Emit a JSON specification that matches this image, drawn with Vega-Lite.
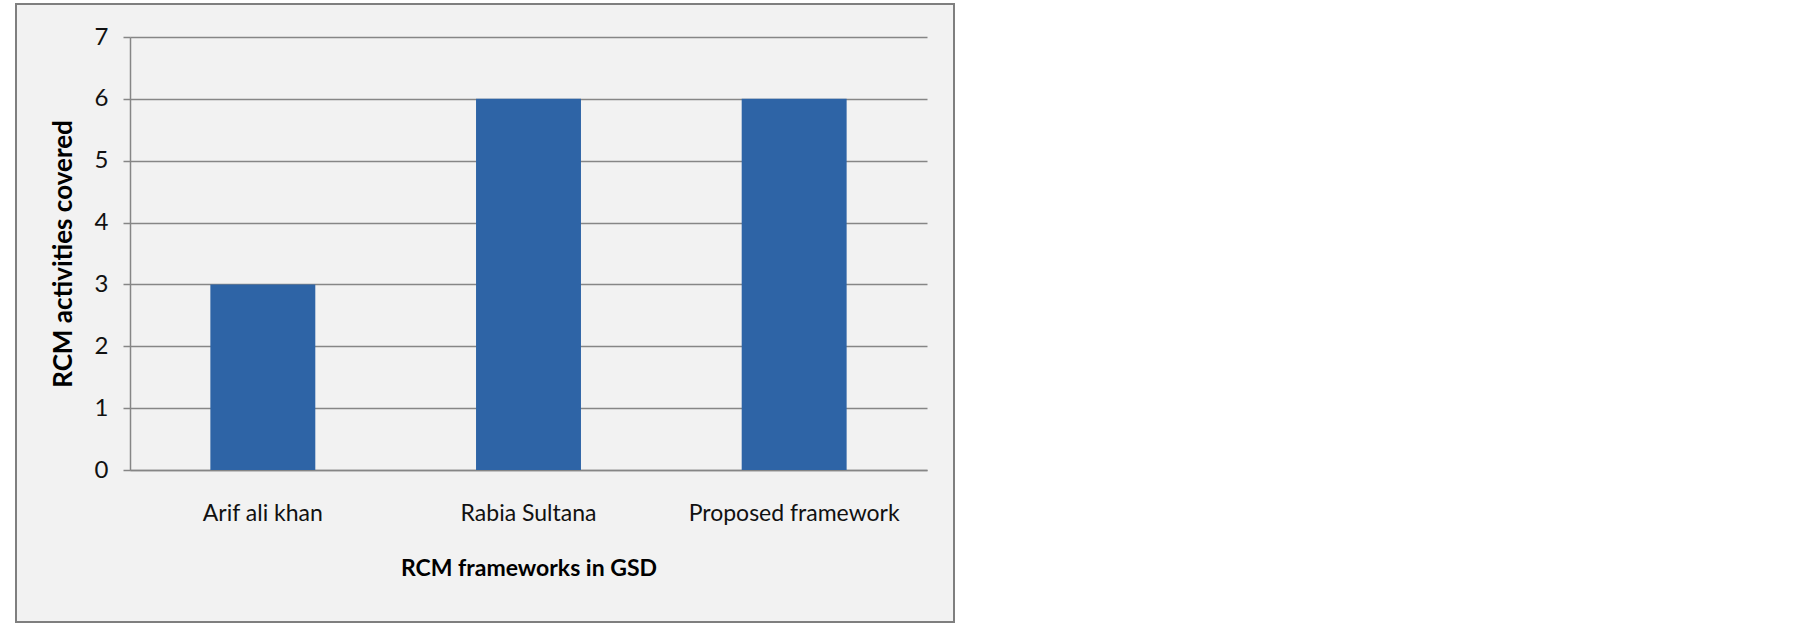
{
  "$schema": "https://vega.github.io/schema/vega-lite/v6.json",
  "width": 938,
  "height": 618,
  "autosize": "none",
  "padding": {"left": 16, "top": 4, "right": 851, "bottom": 5},
  "background": "white",
  "config": {
    "view": {"fill": "#F2F2F2", "stroke": "#7F7F7F", "strokeWidth": 2},
    "font": "Lato"
  },
  "data": {
    "values": [
      {"framework": "Arif ali khan", "activities": 3},
      {"framework": "Rabia Sultana", "activities": 6},
      {"framework": "Proposed framework", "activities": 6}
    ]
  },
  "mark": {"type": "bar", "color": "#2E64A6"},
  "encoding": {
    "x": {
      "field": "framework",
      "type": "nominal",
      "sort": null,
      "scale": {"range": [114, 911], "paddingInner": 0.605, "paddingOuter": 0.3025},
      "axis": {
        "offset": -152,
        "labelAngle": 0,
        "labelLimit": 0,
        "ticks": false,
        "domainColor": "#868686",
        "domainWidth": 1.5,
        "labelPadding": 32,
        "labelFont": "Lato",
        "labelFontSize": 23,
        "labelColor": "#111111",
        "title": "RCM frameworks in GSD",
        "titleFont": "Lato",
        "titleFontSize": 23,
        "titleFontWeight": "bold",
        "titleColor": "#000000",
        "titlePadding": 32
      }
    },
    "y": {
      "field": "activities",
      "type": "quantitative",
      "scale": {"domain": [0, 7], "range": [466, 33], "nice": false},
      "axis": {
        "offset": -114,
        "values": [0, 1, 2, 3, 4, 5, 6, 7],
        "tickSize": 7,
        "tickColor": "#868686",
        "tickWidth": 1.5,
        "domainColor": "#868686",
        "domainWidth": 1.5,
        "gridColor": "#868686",
        "gridWidth": 1.5,
        "gridOpacity": 1,
        "labelPadding": 15,
        "labelFont": "Lato",
        "labelFontSize": 24,
        "labelColor": "#111111",
        "title": "RCM activities covered",
        "titleFont": "Lato",
        "titleFontSize": 26,
        "titleFontWeight": "bold",
        "titleColor": "#000000",
        "titlePadding": 18
      }
    }
  }
}
